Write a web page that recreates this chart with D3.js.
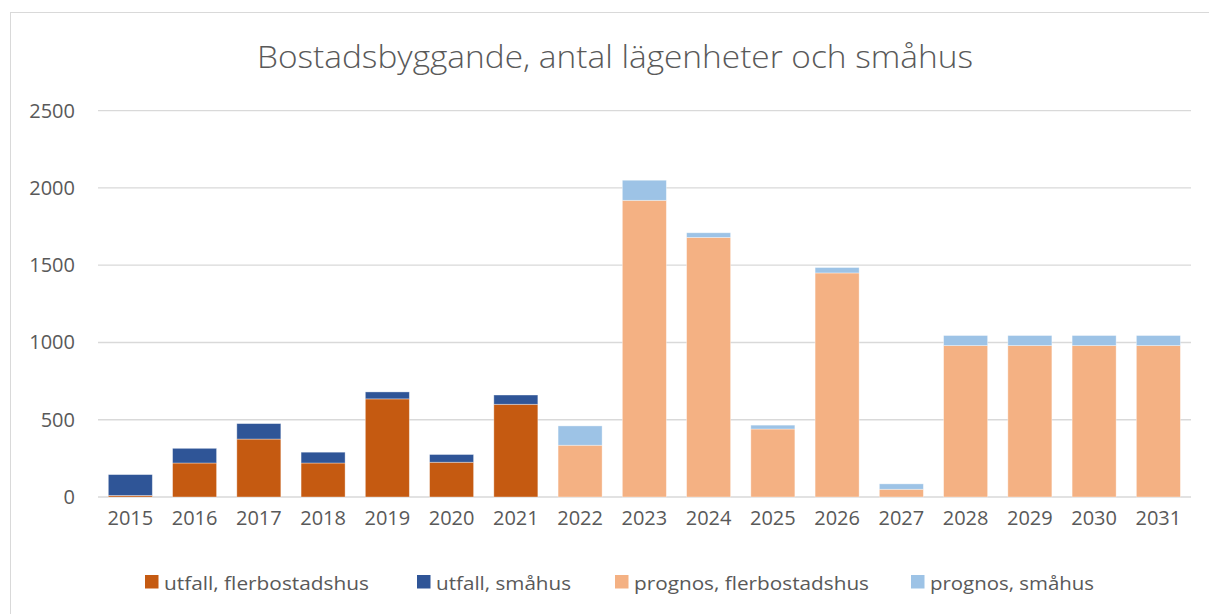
<!DOCTYPE html>
<html><head><meta charset="utf-8">
<script src="https://cdn.jsdelivr.net/npm/d3@7/dist/d3.min.js"></script>
<style>body{margin:0;background:#fff;}svg{display:block;font-family:"Open Sans",sans-serif;}</style>
</head><body><svg id="c" width="1209" height="614"></svg>
<script>
const years = ["2015","2016","2017","2018","2019","2020","2021","2022","2023","2024","2025","2026","2027","2028","2029","2030","2031"];
const utfallFler = [10,220,375,220,635,225,600,0,0,0,0,0,0,0,0,0,0];
const utfallSma  = [135,95,100,70,45,50,60,0,0,0,0,0,0,0,0,0,0];
const prognosFler = [0,0,0,0,0,0,0,335,1920,1680,440,1450,50,980,980,980,980];
const prognosSma  = [0,0,0,0,0,0,0,125,130,30,25,35,35,65,65,65,65];
const seriesNames = ["utfall, flerbostadshus","utfall, småhus","prognos, flerbostadshus","prognos, småhus"];
const colors = ["#C55A11","#2F5597","#F4B183","#9DC3E6"];
const yTicks = [0,500,1000,1500,2000,2500];
const title = "Bostadsbyggande, antal lägenheter och småhus";

const svg = d3.select("#c");
// chart border
svg.append("rect").attr("x",10.5).attr("y",12.5).attr("width",1220).attr("height",620)
  .attr("fill","none").attr("stroke","#d9d9d9").attr("stroke-width",1);

const x = d3.scaleBand().domain(years).range([98.2,1190.5]).paddingInner(0.315).paddingOuter(0.1575);
const y = d3.scaleLinear().domain([0,2500]).range([497,110.7]);

// gridlines
svg.append("g").selectAll("line").data(yTicks).join("line")
  .attr("x1",98).attr("x2",1191).attr("y1",d=>y(d)).attr("y2",d=>y(d))
  .attr("stroke","#d9d9d9").attr("stroke-width",1.3);

// stacked data
const rows = years.map((yr,i)=>({year:yr, a:utfallFler[i], b:utfallSma[i], c:prognosFler[i], d:prognosSma[i]}));
const stack = d3.stack().keys(["a","b","c","d"])(rows);
svg.append("g").selectAll("g").data(stack).join("g").attr("fill",(d,i)=>colors[i])
  .selectAll("rect").data(d=>d.filter(p=>p[1]-p[0]>0)).join("rect")
  .attr("x",d=>x(d.data.year)).attr("width",x.bandwidth())
  .attr("y",d=>y(d[1])).attr("height",d=>y(d[0])-y(d[1]))
  .attr("stroke","#ffffff").attr("stroke-opacity",0.45).attr("stroke-width",0.8);

// y axis
const ya = svg.append("g").attr("transform","translate(75,0)")
  .call(d3.axisLeft(y).tickValues(yTicks).tickFormat(d3.format("d")).tickSize(0).tickPadding(0));
ya.select(".domain").remove();
ya.selectAll("text").attr("font-size",20).attr("fill","#595959").attr("font-family","Open Sans");

// x axis
const xa = svg.append("g").attr("transform","translate(0,510)")
  .call(d3.axisBottom(x).tickSize(0).tickPadding(0));
xa.select(".domain").remove();
xa.selectAll("text").attr("font-size",20).attr("fill","#595959").attr("font-family","Open Sans").attr("dy","0.75em");

// title
svg.append("text").attr("x",615).attr("y",68).attr("text-anchor","middle")
  .attr("font-size",31).attr("font-weight",300).attr("fill","#595959")
  .attr("textLength",716).attr("lengthAdjust","spacingAndGlyphs").text(title);

// legend
const legX = [145,417,615,911];
const legW = [205,135,235,164];
const lg = svg.append("g").selectAll("g").data(seriesNames).join("g")
  .attr("transform",(d,i)=>`translate(${legX[i]},575)`);
lg.append("rect").attr("width",13.5).attr("height",13.5).attr("fill",(d,i)=>colors[i]);
lg.append("text").attr("x",19).attr("y",14.5).attr("font-size",19).attr("fill","#595959")
  .attr("textLength",(d,i)=>legW[i]).attr("lengthAdjust","spacingAndGlyphs").text(d=>d);
</script></body></html>
